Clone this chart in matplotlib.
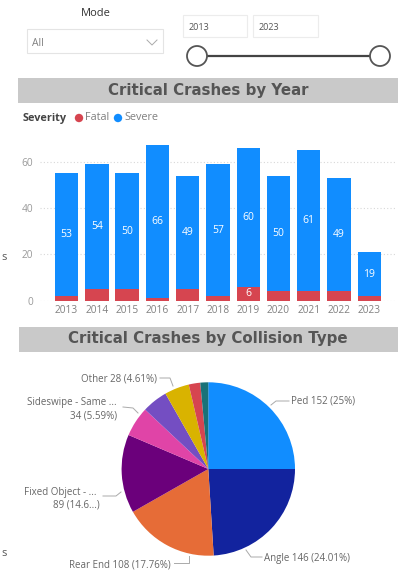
import matplotlib
matplotlib.use("Agg")
import matplotlib.pyplot as plt
from matplotlib.patches import Rectangle, Circle

# datos
anios = ["2013", "2014", "2015", "2016", "2017", "2018", "2019", "2020", "2021", "2022", "2023"]
fatal = [2, 5, 5, 1, 5, 2, 6, 4, 4, 4, 2]
severe = [53, 54, 50, 66, 49, 57, 60, 50, 61, 49, 19]

tipos = ["Ped", "Angle", "Rear End", "Fixed Object - ...", "Sideswipe - Same ...",
         "Head On", "Other", "Rear to Side", "Backing"]
choques = [152, 146, 108, 89, 34, 29, 28, 13, 9]
colores_pie = ["#118DFF", "#12239E", "#E66C37", "#6B007B", "#E044A7",
               "#744EC2", "#D9B300", "#D64550", "#197278"]

AZUL = "#118DFF"
ROJO = "#D64550"
GRIS = "#808080"
W, H = 410, 570

plt.rcParams["font.family"] = ["Open Sans", "DejaVu Sans"]

fig = plt.figure(figsize=(W / 100, H / 100), dpi=100)


def rect_px(x0, y0, x1, y1):
    # caja en pixeles (origen arriba a la izquierda) -> fraccion de figura
    return [x0 / W, 1 - y1 / H, (x1 - x0) / W, (y1 - y0) / H]


# lienzo de fondo en pixeles
bg = fig.add_axes([0, 0, 1, 1])
bg.set_xlim(0, W)
bg.set_ylim(H, 0)
bg.axis("off")

# filtros de arriba
bg.text(96, 14, "Mode", ha="center", va="center", fontsize=8, color="#333333")
bg.add_patch(Rectangle((27, 29), 136, 24, fill=False, ec="#e4e4e4", lw=0.8))
bg.text(32, 43, "All", ha="left", va="center", fontsize=7.5, color=GRIS)
bg.plot([147, 152, 157], [40, 45, 40], color="#aaaaaa", lw=0.7)
bg.add_patch(Rectangle((183, 15), 64, 22, fill=False, ec="#ececec", lw=0.8))
bg.add_patch(Rectangle((253, 15), 65, 22, fill=False, ec="#ececec", lw=0.8))
bg.text(189, 27, "2013", ha="left", va="center", fontsize=6.5, color="#555555")
bg.text(259, 27, "2023", ha="left", va="center", fontsize=6.5, color="#555555")
bg.plot([197, 380], [56, 56], color="#444444", lw=1.6, zorder=2)
for cx in (197, 380):
    bg.add_patch(Circle((cx, 56), 10, fc="white", ec="#555555", lw=1.3, zorder=3))

# barras de titulo
bg.add_patch(Rectangle((18, 78), 380, 25, fc="#c9c9c9", ec="none"))
bg.text(208, 91, "Critical Crashes by Year", ha="center", va="center",
        fontsize=10.8, fontweight="bold", color="#555555", family="DejaVu Sans")
bg.add_patch(Rectangle((19, 327), 379, 25, fc="#c9c9c9", ec="none"))
bg.text(208, 339, "Critical Crashes by Collision Type", ha="center", va="center",
        fontsize=10.8, fontweight="bold", color="#555555", family="DejaVu Sans")

# leyenda
bg.text(23, 118, "Severity", ha="left", va="center", fontsize=7.8,
        fontweight="bold", color="#444444")
bg.add_patch(Circle((79, 118), 4.2, fc=ROJO, ec="none"))
bg.text(85, 118, "Fatal", ha="left", va="center", fontsize=7.8, color=GRIS)
bg.add_patch(Circle((118, 118), 4.2, fc=AZUL, ec="none"))
bg.text(124, 118, "Severe", ha="left", va="center", fontsize=7.8, color=GRIS)

# restos de texto cortado a la izquierda
bg.text(1, 258, "s", ha="left", va="center", fontsize=8, color="#555555")
bg.text(1, 553, "s", ha="left", va="center", fontsize=8, color="#555555")

# barras apiladas
ax = fig.add_axes(rect_px(40, 138.5, 397, 300.7))
x = range(len(anios))
ax.bar(x, fatal, width=0.77, color=ROJO, zorder=2)
ax.bar(x, severe, width=0.77, bottom=fatal, color=AZUL, zorder=2)
for i in x:
    ax.text(i, fatal[i] + severe[i] / 2, str(severe[i]), ha="center", va="center",
            fontsize=7.5, color="white", zorder=3)
    if fatal[i] >= 6:
        ax.text(i, fatal[i] / 2, str(fatal[i]), ha="center", va="center",
                fontsize=7.5, color="white", zorder=3)
ax.set_xlim(-0.88, 10.92)
ax.set_ylim(0, 70)
ax.set_yticks([0, 20, 40, 60])
ax.set_xticks(list(x))
ax.set_xticklabels(anios)
ax.tick_params(length=0, labelsize=7.3, colors=GRIS, pad=3)
ax.tick_params(axis="y", pad=5, colors="#999999")
ax.grid(axis="y", color="#d8d8d8", linestyle=(0, (1, 2)), lw=0.8, zorder=0)
for s in ax.spines.values():
    s.set_visible(False)
ax.patch.set_alpha(0)

# torta
r = 86.7
pax = fig.add_axes(rect_px(208.3 - r, 469 - r, 208.3 + r, 469 + r))
pax.pie(choques, colors=colores_pie, startangle=90, counterclock=False, radius=1,
        wedgeprops=dict(lw=0))
pax.set_xlim(-1, 1)
pax.set_ylim(-1, 1)
pax.axis("off")

total = sum(choques)


def etiqueta(i):
    pct = choques[i] / total * 100
    p = f"{pct:.2f}".rstrip("0").rstrip(".")
    return f"{tipos[i]} {choques[i]} ({p}%)"


# lineas guia y textos de la torta
guias = [
    ([271, 276, 289], [405, 401, 401]),
    ([246, 251, 262], [550, 557, 557]),
    ([189, 189, 174], [556, 563, 563]),
    ([103, 116, 121], [496, 496, 492]),
    ([123, 133, 138], [407, 408, 413]),
    ([160, 170, 173], [378, 378, 386]),
]
for gx, gy in guias:
    bg.plot(gx, gy, color="#aaaaaa", lw=0.7)

fs = 7
col = "#666666"
bg.text(291, 401, etiqueta(0), ha="left", va="center", fontsize=fs, color=col)
bg.text(264, 558, etiqueta(1), ha="left", va="center", fontsize=fs, color=col)
bg.text(171, 565, etiqueta(2), ha="right", va="center", fontsize=fs, color=col)
bg.text(97, 492, tipos[3], ha="right", va="center", fontsize=fs, color=col)
bg.text(100, 505, f"{choques[3]} ({choques[3] / total * 100:.1f}...)", ha="right",
        va="center", fontsize=fs, color=col)
bg.text(117, 403, tipos[4], ha="right", va="center", fontsize=fs, color=col)
bg.text(117, 416, f"{choques[4]} ({choques[4] / total * 100:.2f}%)", ha="right",
        va="center", fontsize=fs, color=col)
bg.text(157, 379, etiqueta(6), ha="right", va="center", fontsize=fs, color=col)

fig.savefig("out.png", dpi=100)
